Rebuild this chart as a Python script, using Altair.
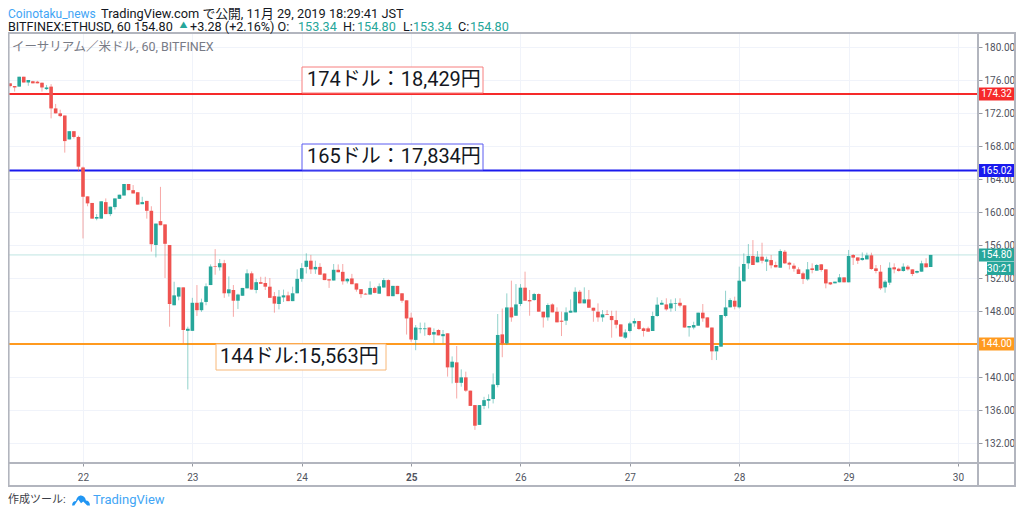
import altair as alt
import pandas as pd

# Hourly OHLC candles (oldest first)
opens = [176.0,175.6,175.27,175.2,176.4,175.7,175.85,175.8,175.67,174.9,
 175.2,172.56,171.96,171.7,168.8,169.8,169.1,165.4,161.9,161.1,
 159.2,159.2,161.2,159.75,160.6,161.6,162.0,163.4,162.65,162.4,
 160.95,161.35,160.15,156.0,158.9,158.5,156.0,148.7,149.75,150.87,
 145.6,145.6,149.0,148.1,149.1,151.15,153.45,153.3,153.8,150.15,
 150.55,149.25,149.85,150.75,152.57,150.55,151.5,151.4,150.95,149.8,
 148.85,149.65,149.9,149.2,150.15,151.9,153.35,154.1,153.05,153.35,
 152.55,151.85,151.7,153.0,152.75,151.6,151.95,151.35,150.65,150.1,
 150.0,150.8,150.1,150.85,151.75,149.8,151.05,150.15,149.3,147.2,
 144.5,145.8,145.8,146.0,145.15,145.7,144.95,145.3,141.17,141.78,
 139.3,139.96,138.35,136.6,134.2,136.5,137.13,137.33,139.03,145.17,
 144.08,148.44,147.43,148.85,150.83,149.33,149.33,150.06,147.92,147.23,
 148.8,147.92,146.83,146.83,147.8,147.84,150.34,148.93,149.41,148.4,
 147.92,147.23,147.6,147.4,146.9,146.38,144.77,145.58,146.5,146.79,
 145.9,145.9,145.58,147.4,148.77,148.8,148.32,148.85,149.0,148.69,
 146.0,146.0,146.22,147.8,147.23,146.0,143.11,143.68,147.4,148.45,
 149.25,148.45,151.6,153.78,154.67,153.9,154.59,153.98,154.18,153.58,
 153.25,155.19,153.86,153.5,153.05,152.57,151.84,153.17,152.89,153.66,
 153.05,151.48,151.36,151.48,152.08,151.48,154.79,154.5,154.18,154.26,
 154.75,153.17,152.77,150.87,151.44,153.3,153.13,152.85,153.38,153.05,
 152.65,152.77,153.78,153.34]
highs = [176.0,175.6,175.27,176.4,176.4,176.0,175.9,175.9,175.7,175.4,
 175.5,173.1,172.4,171.7,169.8,169.8,169.25,165.5,161.9,161.1,
 159.75,161.3,161.65,160.65,161.65,162.1,163.4,163.4,163.27,162.4,
 161.85,161.35,160.7,158.6,163.05,158.5,156.0,151.55,150.87,150.87,
 146.1,149.6,151.15,149.5,151.35,153.65,155.5,154.3,154.2,152.2,
 151.15,150.1,150.8,153.05,152.8,151.9,152.15,152.15,152.0,150.3,
 150.55,150.6,150.35,150.95,153.05,153.8,155.0,154.8,154.1,153.8,
 152.55,151.85,153.7,153.65,153.7,152.0,152.5,151.35,150.65,150.2,
 151.6,150.95,151.35,152.0,151.85,151.05,151.05,150.15,149.3,147.8,
 146.3,146.6,146.6,146.0,145.9,145.8,145.7,145.3,142.5,143.76,
 140.93,140.65,138.35,136.6,136.6,137.6,137.9,140.44,147.64,148.3,
 150.14,151.68,151.27,151.27,152.77,150.55,150.2,150.14,147.92,148.93,
 148.93,148.45,147.92,148.44,149.41,150.87,150.55,150.87,150.55,148.4,
 148.93,148.12,148.12,148.04,148.04,146.38,145.78,146.7,147.11,146.79,
 146.0,146.1,147.92,149.66,149.33,149.54,149.41,149.54,149.54,148.69,
 146.18,146.7,147.8,148.85,147.23,146.0,143.11,147.52,150.46,149.54,
 149.74,153.38,154.99,156.12,156.6,155.27,156.28,154.59,154.79,153.98,
 155.48,155.4,153.98,153.78,153.3,152.77,153.94,153.78,153.7,153.7,
 153.05,151.48,151.56,152.49,152.08,155.4,154.91,154.5,155.1,155.07,
 155.07,153.58,153.58,151.75,153.9,153.78,153.25,153.78,153.58,153.05,
 152.9,154.1,154.4,154.8]
lows = [175.6,175.1,174.6,175.2,175.7,175.3,175.6,175.6,174.6,174.8,
 171.35,171.96,171.5,167.2,168.8,168.9,164.9,156.8,160.7,159.2,
 159.0,159.2,159.75,159.5,160.3,161.6,162.0,162.65,162.25,160.9,
 160.95,159.2,155.2,154.5,158.4,152.0,146.1,148.7,149.3,144.1,
 138.5,145.6,147.4,147.9,148.7,151.15,152.4,152.9,149.6,149.75,
 147.3,148.25,149.85,150.75,150.6,150.15,151.3,150.55,149.6,147.8,
 148.2,149.1,149.2,149.2,150.15,151.55,152.55,152.5,152.5,152.4,
 151.75,150.8,151.7,152.7,151.2,151.35,151.25,150.35,149.6,150.0,
 150.0,150.15,150.1,150.85,149.8,149.8,150.05,149.0,145.15,144.28,
 143.25,145.3,145.0,145.0,144.1,145.05,144.1,140.05,139.23,137.4,
 138.83,138.2,136.5,133.6,134.2,136.1,136.2,136.8,138.75,142.4,
 143.88,146.7,147.43,148.6,149.25,147.43,149.25,147.92,146.0,146.83,
 147.84,146.63,144.97,146.3,147.8,147.84,148.93,148.93,148.4,146.7,
 146.7,146.7,147.52,144.77,145.9,144.9,144.6,145.41,146.1,145.7,
 144.9,145.5,145.58,147.3,148.77,148.04,147.92,148.0,148.44,146.0,
 144.9,145.78,146.22,146.7,146.0,142.06,142.06,143.68,147.23,148.45,
 148.2,148.3,151.6,153.1,153.58,153.9,153.78,152.85,153.17,153.3,
 153.25,153.7,153.05,152.77,152.49,151.27,151.68,152.57,152.89,152.77,
 150.75,151.15,151.36,151.48,151.48,151.48,153.58,153.7,154.1,154.26,
 153.0,152.57,150.55,150.22,151.15,152.57,152.77,152.77,152.9,152.24,
 152.55,152.77,153.3,153.34]
closes = [175.6,175.27,175.1,176.4,175.7,176.0,175.6,175.6,175.1,175.1,
 172.56,171.96,171.63,168.6,169.8,169.1,165.5,161.85,161.05,159.2,
 159.4,161.3,159.75,160.65,161.65,162.1,163.4,162.65,162.25,160.9,
 161.2,160.15,156.1,158.6,158.4,156.15,148.85,149.9,150.87,145.7,
 145.85,149.0,148.1,149.05,151.0,153.4,153.38,153.8,150.15,150.63,
 149.25,150.0,150.8,152.57,150.6,151.5,151.3,150.95,149.6,148.9,
 149.75,149.9,149.2,150.15,151.9,153.2,154.1,153.05,153.35,152.4,
 151.75,151.7,153.0,152.7,151.6,151.9,151.25,150.6,150.05,150.0,
 150.8,150.2,151.0,151.75,149.8,151.05,150.05,149.25,147.1,144.55,
 146.0,145.9,145.9,145.1,145.45,145.05,145.2,141.17,141.86,139.3,
 139.96,138.35,136.5,134.1,136.6,137.2,137.33,139.1,145.1,144.08,
 148.44,147.23,148.8,150.83,149.25,149.17,150.06,147.92,147.23,148.73,
 147.84,146.63,146.7,147.84,148.04,150.34,148.93,149.41,148.4,148.04,
 147.23,147.6,147.52,146.9,146.34,144.9,145.41,146.5,146.79,145.82,
 145.58,145.5,147.4,148.77,149.0,148.2,148.93,148.93,148.65,146.0,
 146.18,146.3,147.8,147.11,146.0,143.11,143.76,147.52,148.44,149.33,
 148.53,151.68,153.7,154.67,153.58,154.59,154.1,154.26,153.54,153.3,
 155.27,153.78,153.62,153.13,152.49,151.88,153.05,152.97,153.58,152.97,
 151.35,151.23,151.56,152.08,151.48,154.67,154.47,154.1,154.43,154.75,
 153.09,152.85,150.75,151.56,153.25,153.05,152.85,153.38,153.05,152.49,
 152.85,153.78,153.3,154.8]
first_day = 21 + 7 / 24   # first candle: day 21, 07:00
day_ticks = [22, 23, 24, 25, 26, 27, 28, 29, 30]
price_ticks = [132, 136, 140, 144, 148, 152, 156, 160, 164, 168, 172, 176, 180]

level_prices = [174.32, 165.02, 144.00]
level_colors = ["#f62a2a", "#1a1aee", "#ff9a1f"]
last_price = 154.80
UP, DOWN = "#26a69a", "#ef5350"

FONT = "Roboto, 'Noto Sans CJK JP', sans-serif"
X0, Y0, W, H = 8, 33, 970, 430   # page position of the plot area


def px(x):
    return x - X0


def py(y):
    return y - Y0


def label(text, x, y, color="#131722", size=12.6, align="left", weight="normal"):
    return alt.Chart(pd.DataFrame({"t": [text]})).mark_text(
        align=align, baseline="middle", font=FONT, fontSize=size, color=color, fontWeight=weight
    ).encode(text="t:N", x=alt.value(px(x)), y=alt.value(py(y)))


def box(x1, y1, x2, y2, stroke, fill="white", sw=1.0):
    return alt.Chart(pd.DataFrame({"a": [0]})).mark_rect(
        fill=fill, stroke=stroke, strokeWidth=sw
    ).encode(x=alt.value(px(x1)), x2=alt.value(px(x2)), y=alt.value(py(y1)), y2=alt.value(py(y2)))


def hline(x1, x2, y, color="#b2b5be", sw=2):
    return alt.Chart(pd.DataFrame({"a": [0]})).mark_rule(color=color, strokeWidth=sw).encode(
        x=alt.value(px(x1)), x2=alt.value(px(x2)), y=alt.value(py(y)))


def vline(x, y1, y2, color="#b2b5be", sw=2):
    return alt.Chart(pd.DataFrame({"a": [0]})).mark_rule(color=color, strokeWidth=sw).encode(
        x=alt.value(px(x)), y=alt.value(py(y1)), y2=alt.value(py(y2)))


candles = pd.DataFrame({"o": opens, "h": highs, "l": lows, "c": closes})
candles["day"] = [first_day + i / 24 for i in range(len(candles))]
candles["top"] = candles[["o", "c"]].max(axis=1)
candles["bot"] = candles[["o", "c"]].min(axis=1)
candles["dir"] = ["up" if c >= o else "down" for o, c in zip(opens, closes)]

x_scale = alt.Scale(domain=[21.3143, 30.1829], nice=False, zero=False)
y_scale = alt.Scale(domain=[129.58, 181.70], nice=False, zero=False)
col = alt.Color("dir:N", scale=alt.Scale(domain=["up", "down"], range=[UP, DOWN]), legend=None)
X_AXIS = alt.Axis(
    values=day_ticks, format="d", orient="bottom", grid=True, gridColor="#f0f3fa", gridWidth=1,
    domain=False, tickColor="#9598a1", tickSize=3, labelColor="#50535e", labelFontSize=10,
    labelFont=FONT, labelPadding=6, labelOverlap=False, title=None,
    labelFontWeight=alt.expr("datum.value == 25 ? 'bold' : 'normal'"))
Y_AXIS = alt.Axis(
    values=price_ticks, format=".2f", orient="right", grid=True, gridColor="#f0f3fa", gridWidth=1,
    domain=False, tickColor="#9598a1", tickSize=4, labelColor="#50535e", labelFontSize=10,
    labelFont=FONT, labelPadding=2, labelOverlap=False, title=None)
X_DAY = alt.X("day:Q", scale=x_scale, axis=X_AXIS)
Y_LEVEL = alt.Y("p:Q", scale=y_scale, axis=Y_AXIS)

last_line = alt.Chart(pd.DataFrame({"p": [last_price]})).mark_rule(
    color="#bfe6e2", strokeWidth=1).encode(y=Y_LEVEL)

wicks = alt.Chart(candles).mark_rule(strokeWidth=1, opacity=0.5, clip=True).encode(
    x=X_DAY, y=alt.Y("l:Q", scale=y_scale, axis=Y_AXIS), y2="h:Q", color=col)
bodies = alt.Chart(candles).mark_rule(strokeWidth=3.6, clip=True).encode(
    x=X_DAY, y=alt.Y("bot:Q", scale=y_scale, axis=Y_AXIS), y2="top:Q", color=col)

levels = [
    alt.Chart(pd.DataFrame({"p": [p]})).mark_rule(color=c, strokeWidth=2).encode(y=Y_LEVEL)
    for p, c in zip(level_prices, level_colors)
]

note_boxes = [
    box(302, 67, 483, 93, "#f77f7f"), label("174ドル：18,429円", 307, 80, size=20),
    box(302, 144, 483, 170, "#5a5af0"), label("165ドル：17,834円", 307, 157, size=20),
    box(216, 344, 386, 370, "#f8b878"), label("144ドル:15,563円", 220, 357, size=20),
]


def tag(price, color, x1=978, x2=1016, height=13):
    return alt.Chart(pd.DataFrame({"p": [price]})).mark_rect(color=color, height=height).encode(
        x=alt.value(px(x1)), x2=alt.value(px(x2)), y=Y_LEVEL)


def tag_text(price, text, x=1012):
    return alt.Chart(pd.DataFrame({"p": [price], "t": [text]})).mark_text(
        color="white", font=FONT, fontSize=10, align="right", baseline="middle"
    ).encode(x=alt.value(px(x)), y=Y_LEVEL, text="t:N")


tags = []
for p, c in zip(level_prices, level_colors):
    tags += [tag(p, c), tag_text(p, f"{p:.2f}")]
tags += [tag(last_price, UP), tag_text(last_price, f"{last_price:.2f}"),
         box(987, 262, 1016, 275, UP, fill=UP, sw=0), label("30:21", 1012, 268.5, color="white", size=10, align="right")]

G = "#26a69a"
header = [
    label("Coinotaku_news", 8, 13.8, color="#42a5f5", size=12),
    label("TradingView.com で公開, 11月 29, 2019 18:29:41 JST", 101, 13.8, size=12.8),
    label("BITFINEX:ETHUSD, 60 154.80", 8, 27),
    label("▲", 179.5, 26, color=G, size=8),
    label("+3.28 (+2.16%) O:", 190, 27),
    label("153.34", 298, 27, color=G),
    label("H:", 343, 27),
    label("154.80", 357, 27, color=G),
    label("L:", 403, 27),
    label("153.34", 413, 27, color=G),
    label("C:", 458, 27),
    label("154.80", 470, 27, color=G),
    label("イーサリアム／米ドル, 60, BITFINEX", 12, 47, color="#787b86", size=12.5),
    label("作成ツール:", 8, 500, color="#3a3d46", size=11),
    label("TradingView", 93, 500, color="#42a5f5", size=13),
]

logo_path = ("M-1,0.55 C-1,0.2 -0.8,0.05 -0.55,0.05 C-0.5,-0.3 -0.25,-0.55 0,-0.55 "
             "C0.3,-0.55 0.5,-0.3 0.55,0 C0.8,0 1,0.2 1,0.55 L0.7,0.55 L0.25,0.1 L0,0.3 L-0.3,-0.1 L-0.75,0.55 Z")
logo = alt.Chart(pd.DataFrame({"a": [0]})).mark_point(
    shape=logo_path, filled=True, color="#2196f3", opacity=1, size=320, strokeWidth=0
).encode(x=alt.value(px(81)), y=alt.value(py(500.5)))

frame = [
    vline(8.6, 33, 486), vline(978, 33, 486), vline(1015, 33, 486),
    hline(8, 1016, 33), hline(8, 1016, 463), hline(8, 1016, 486),
]

chart = alt.layer(
    last_line, *levels, wicks, bodies, *note_boxes, *tags, *frame, *header, logo
).resolve_scale(color="independent").properties(
    width=W, height=H,
    padding={"left": 0, "top": Y0 - 8, "right": 38, "bottom": 48},
    autosize=alt.AutoSizeParams(type="none"),
).configure_view(stroke=None).configure_axis(labelOverlap=False)

chart.save("out.html", embed_options={"renderer": "svg", "actions": False})
